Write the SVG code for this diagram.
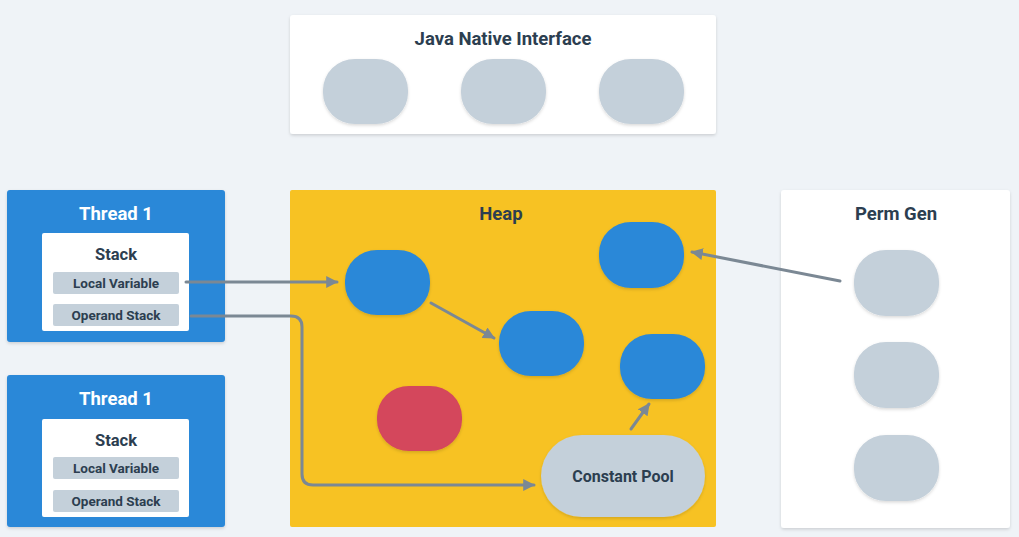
<svg xmlns="http://www.w3.org/2000/svg" width="1019" height="537" viewBox="0 0 1019 537">
<defs>
<filter id="sh" x="-20%" y="-20%" width="140%" height="150%">
<feDropShadow dx="0" dy="1.5" stdDeviation="1.5" flood-color="#000" flood-opacity="0.15"/>
</filter>
<marker id="ah" viewBox="0 0 10 10" refX="9" refY="5" markerWidth="4" markerHeight="4" orient="auto" markerUnits="strokeWidth">
<path d="M0,0 L10,5 L0,10 z" fill="#7b8894"/>
</marker>
<style>
.t{font-family:Roboto,"Liberation Sans",sans-serif;font-weight:700;fill:#2c3e50;text-anchor:middle}
.panel{fill:#ffffff;filter:url(#sh)}
.thread{fill:#2b88d8;filter:url(#sh)}
.gp{fill:#c4d0da;filter:url(#sh)}
.bp{fill:#2b88d8;filter:url(#sh)}
.rp{fill:#d4475c;filter:url(#sh)}
.slot{fill:#c4d0da}
.c{fill:none;stroke:#7b8894;stroke-width:3;stroke-linecap:round;marker-end:url(#ah)}
</style>
</defs>
<rect width="1019" height="537" fill="#eff3f7"/>

<g id="jni">
<rect class="panel" x="290" y="15" width="426" height="119" rx="3"/>
<text class="t" x="503" y="45" font-size="18.5">Java Native Interface</text>
<rect class="gp" x="323" y="59" width="85" height="65" rx="32" ry="31"/>
<rect class="gp" x="461" y="59" width="85" height="65" rx="32" ry="31"/>
<rect class="gp" x="599" y="59" width="85" height="65" rx="32" ry="31"/>
</g>

<g id="thread1">
<rect class="thread" x="7" y="190" width="218" height="152" rx="3"/>
<text class="t" x="116" y="220" font-size="18.5" style="fill:#fff">Thread 1</text>
<rect x="42" y="233" width="147" height="98" rx="2" fill="#fff"/>
<text class="t" x="116" y="260" font-size="16.5">Stack</text>
<rect class="slot" x="53" y="272" width="126" height="22" rx="2"/>
<text class="t" x="116" y="287.5" font-size="13.5">Local Variable</text>
<rect class="slot" x="53" y="304" width="126" height="22" rx="2"/>
<text class="t" x="116" y="319.5" font-size="13.5">Operand Stack</text>
</g>

<g id="thread2">
<rect class="thread" x="7" y="375" width="218" height="152" rx="3"/>
<text class="t" x="116" y="405" font-size="18.5" style="fill:#fff">Thread 1</text>
<rect x="42" y="419" width="147" height="98" rx="2" fill="#fff"/>
<text class="t" x="116" y="446" font-size="16.5">Stack</text>
<rect class="slot" x="53" y="457" width="126" height="22" rx="2"/>
<text class="t" x="116" y="472.5" font-size="13.5">Local Variable</text>
<rect class="slot" x="53" y="490" width="126" height="22" rx="2"/>
<text class="t" x="116" y="505.5" font-size="13.5">Operand Stack</text>
</g>

<g id="heap">
<rect x="290" y="190" width="426" height="337" rx="2" fill="#f7c223"/>
<text class="t" x="501" y="220" font-size="18.5">Heap</text>
<rect class="bp" x="345" y="250" width="85" height="65" rx="32" ry="31"/>
<rect class="bp" x="599" y="222" width="85" height="66" rx="32" ry="31"/>
<rect class="bp" x="499" y="311" width="85" height="65" rx="32" ry="31"/>
<rect class="bp" x="620" y="334" width="85" height="65" rx="32" ry="31"/>
<rect class="rp" x="377" y="386" width="85" height="65" rx="32" ry="31"/>
<g id="constant-pool">
<rect class="gp" x="541" y="435" width="164" height="82" rx="41"/>
<text class="t" x="623" y="481.5" font-size="16">Constant Pool</text>
</g>
</g>

<g id="permgen">
<rect class="panel" x="781" y="190" width="229" height="338" rx="3"/>
<text class="t" x="896" y="220" font-size="18.5">Perm Gen</text>
<rect class="gp" x="854" y="250" width="85" height="66" rx="32" ry="31"/>
<rect class="gp" x="854" y="342" width="85" height="66" rx="32" ry="31"/>
<rect class="gp" x="854" y="435" width="85" height="66" rx="32" ry="31"/>
</g>

<g id="connectors">
<path class="c" d="M186,282 L337,282"/>
<path class="c" d="M191,316 L291,316 Q302,316 302,327 L302,474 Q302,485 313,485 L534,485"/>
<path class="c" d="M431,303 L494,338"/>
<path class="c" d="M631,429 L649,404"/>
<path class="c" d="M840,281 L692,252"/>
</g>
</svg>
